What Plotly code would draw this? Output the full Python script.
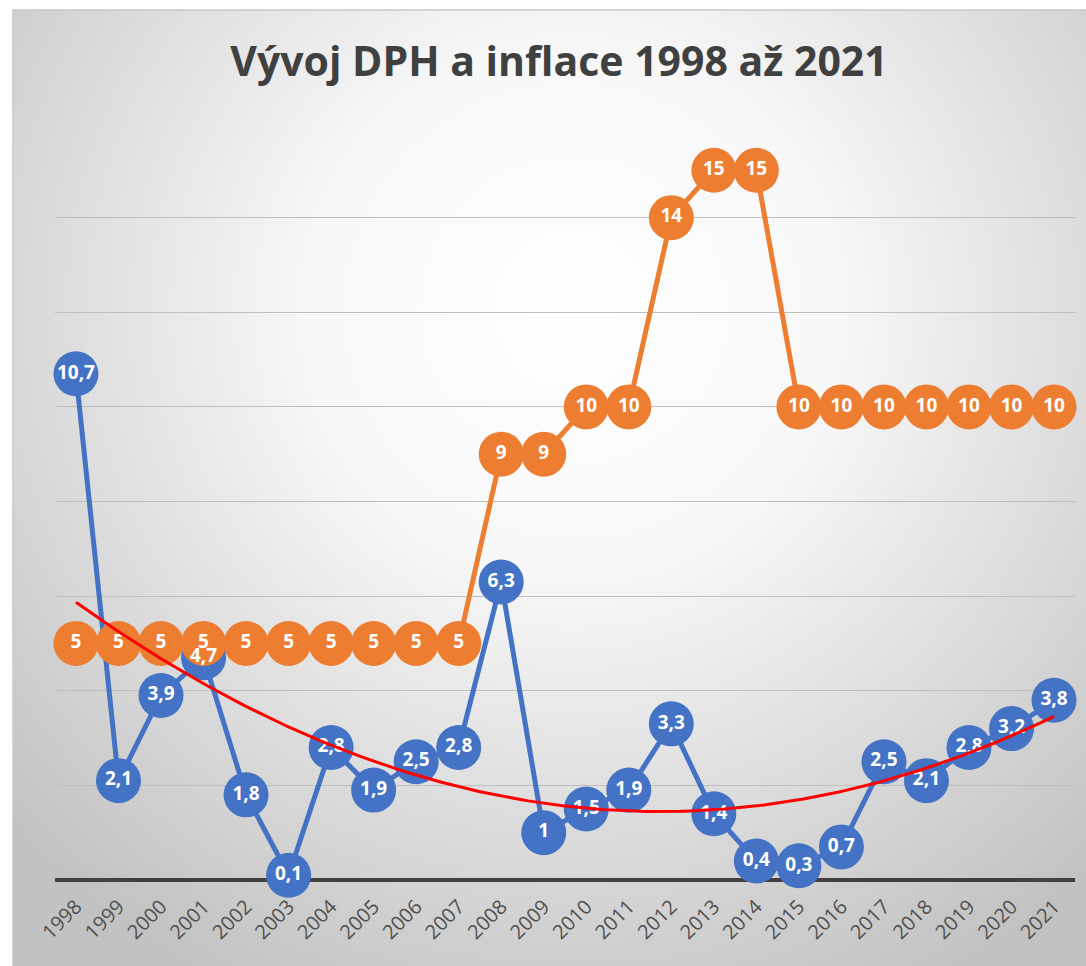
import base64
import numpy as np
import plotly.graph_objects as go

years = [str(y) for y in range(1998, 2022)]
inflace = [10.7, 2.1, 3.9, 4.7, 1.8, 0.1, 2.8, 1.9, 2.5, 2.8, 6.3, 1.0, 1.5, 1.9,
           3.3, 1.4, 0.4, 0.3, 0.7, 2.5, 2.1, 2.8, 3.2, 3.8]
dph = [5, 5, 5, 5, 5, 5, 5, 5, 5, 5, 9, 9, 10, 10, 14, 15, 15, 10, 10, 10, 10, 10, 10, 10]

BLUE = "#4472C4"
ORANGE = "#ED7D31"
W, H = 1086, 966

def fmt(v):
    s = ("%g" % v)
    return s.replace(".", ",")

idx = np.arange(len(years))
coef = np.polyfit(idx, inflace, 2)
xs = np.linspace(0, len(years) - 1, 200)
trend = np.polyval(coef, xs)

svg = f'''<svg xmlns="http://www.w3.org/2000/svg" width="1073" height="956" viewBox="0 0 1073 956">
<defs><radialGradient id="g" gradientUnits="userSpaceOnUse" cx="560" cy="300" r="760">
<stop offset="0" stop-color="#ffffff"/><stop offset="0.35" stop-color="#f7f7f7"/>
<stop offset="1" stop-color="#c2c2c2"/></radialGradient></defs>
<rect x="0" y="0" width="1073" height="956" fill="url(#g)"/></svg>'''
uri = "data:image/svg+xml;base64," + base64.b64encode(svg.encode()).decode()

LBL = dict(color="white", size=19, family="Open Sans", weight="bold")

fig = go.Figure()
fig.add_trace(go.Scatter(x=idx, y=inflace, mode="lines+markers",
                         line=dict(color=BLUE, width=5),
                         marker=dict(size=45, color=BLUE), cliponaxis=False, hoverinfo="skip"))
fig.add_trace(go.Scatter(x=idx, y=dph, mode="lines+markers",
                         line=dict(color=ORANGE, width=5),
                         marker=dict(size=45, color=ORANGE), cliponaxis=False, hoverinfo="skip"))
fig.add_trace(go.Scatter(x=idx, y=inflace, mode="text", text=[fmt(v) for v in inflace],
                         textposition="middle center", cliponaxis=False, textfont=LBL))
fig.add_trace(go.Scatter(x=idx, y=dph, mode="text", text=[fmt(v) for v in dph],
                         textposition="middle center", cliponaxis=False, textfont=LBL))
fig.add_trace(go.Scatter(x=xs, y=trend, mode="lines", line=dict(color="#FF0000", width=3),
                         cliponaxis=False, hoverinfo="skip"))

fig.update_layout(
    width=W, height=H, showlegend=False,
    margin=dict(l=0, r=0, t=0, b=0, autoexpand=False),
    paper_bgcolor="white", plot_bgcolor="rgba(0,0,0,0)",
    images=[dict(source=uri, xref="paper", yref="paper", x=13 / W, y=1 - 10 / H,
                 sizex=1 - 13 / W, sizey=1 - 10 / H, xanchor="left", yanchor="top",
                 sizing="stretch", layer="below")],
    shapes=[dict(type="rect", xref="paper", yref="paper", x0=13 / W, x1=1.01,
                 y0=-0.01, y1=1 - 10 / H, line=dict(color="#c8c8c8", width=1.5),
                 layer="below")],
    title=dict(text="<b>Vývoj DPH a inflace 1998 až 2021</b>", x=559 / W, xanchor="center",
               y=1 - 62 / H, yanchor="middle",
               font=dict(family="Open Sans", size=41, color="#404040")),
    xaxis=dict(domain=[54.7 / W, 1075.3 / W], range=[-0.5, 23.5], tickmode="array",
               tickvals=list(idx), ticktext=years, tickangle=-45, showgrid=False,
               zeroline=False, showline=False, ticks="outside", ticklen=6,
               tickcolor="rgba(0,0,0,0)", automargin=False,
               tickfont=dict(family="Open Sans", size=20, color="#505050")),
    yaxis=dict(domain=[1 - 880 / H, 1 - 123 / H], range=[0, 16], dtick=2,
               showgrid=True, gridcolor="#bfbfbf", gridwidth=1, automargin=False,
               zeroline=True, zerolinecolor="#404040", zerolinewidth=4,
               showticklabels=False, ticks=""),
)

fig.write_html("out.html", config={"displayModeBar": False},
               post_script="document.body.style.margin='0';")
